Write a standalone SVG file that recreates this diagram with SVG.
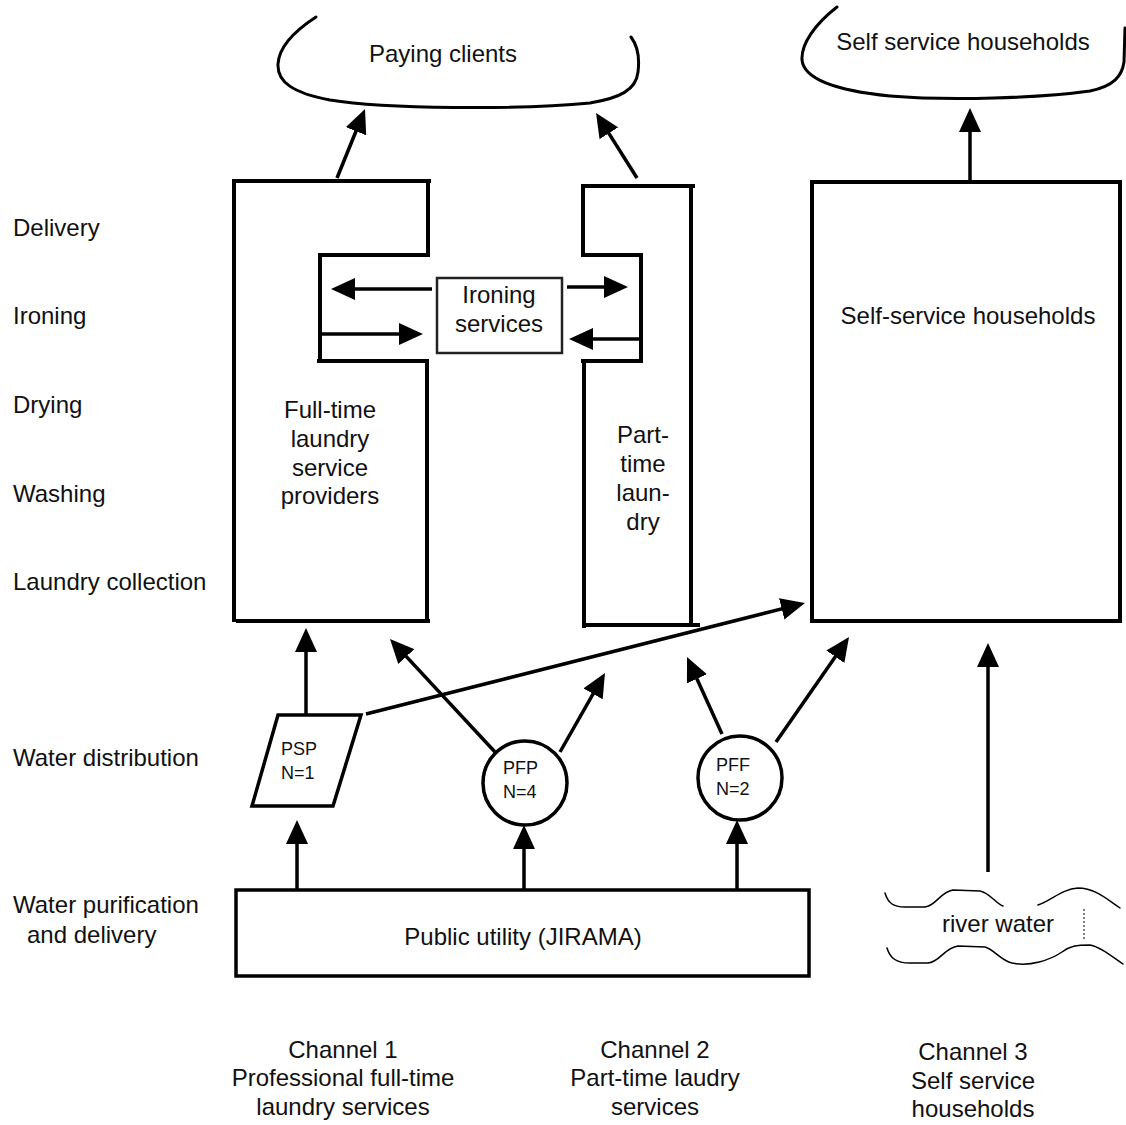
<svg xmlns="http://www.w3.org/2000/svg" width="1126" height="1125" viewBox="0 0 1126 1125">
  <style>
    text { font-family: "Liberation Sans", Arial, sans-serif; font-size: 24px; fill: #111; }
    .mid { text-anchor: middle; }
    .small { font-size: 18px; }
    .wall { fill: none; stroke: #000; stroke-width: 4; }
    .shape { fill: #fff; stroke: #000; stroke-width: 3.5; }
    .cloud { fill: none; stroke: #000; stroke-width: 3; stroke-linecap: round; }
    .wave { fill: none; stroke: #000; stroke-width: 1.5; stroke-linecap: round; }
    .arrow { fill: none; stroke: #000; stroke-width: 3.5; marker-end: url(#head); }
  </style>
  <defs>
    <marker id="head" viewBox="0 0 24 22" refX="4" refY="11" markerWidth="24" markerHeight="22" markerUnits="userSpaceOnUse" orient="auto">
      <path d="M0,0 L24,11 L0,22 z" fill="#000"/>
    </marker>
  </defs>

  <rect width="1126" height="1125" fill="#fff"/>

  <!-- Stage labels on the left -->
  <g id="stage-labels">
    <text x="13" y="236">Delivery</text>
    <text x="13" y="324">Ironing</text>
    <text x="13" y="413">Drying</text>
    <text x="13" y="502">Washing</text>
    <text x="13" y="590">Laundry collection</text>
    <text x="13" y="766">Water distribution</text>
    <text x="13" y="913">Water purification</text>
    <text x="27" y="943">and delivery</text>
  </g>

  <!-- Clients -->
  <g id="paying-clients">
    <path class="cloud" d="M316,17 C296,30 279,46 278,64 C277,82 293,93 330,100 C385,109 520,110 590,103 C620,98 636,90 638,72 C640,56 637,45 631,37"/>
    <text class="mid" x="443" y="62">Paying clients</text>
  </g>
  <g id="self-service-clients">
    <path class="cloud" d="M837,7 C815,24 801,44 802,60 C804,80 840,91 890,96 C950,101 1040,98 1090,91 C1114,86 1122,76 1124,62 L1125,28"/>
    <text class="mid" x="963" y="50">Self service households</text>
  </g>

  <!-- Full-time laundry service providers -->
  <g id="full-time-providers">
    <path class="wall" d="M232,181 H431 M234,183 V622 M428,183 V257 M318,255 H430 M320,255 V363 M317,361 H429 M427,361 V623 M236,621 H430"/>
    <text class="mid" x="330" y="418">Full-time</text>
    <text class="mid" x="330" y="447">laundry</text>
    <text class="mid" x="330" y="476">service</text>
    <text class="mid" x="330" y="504">providers</text>
  </g>

  <!-- Part-time laundry -->
  <g id="part-time-laundry">
    <path class="wall" d="M581,186 H695 M583,186 V257 M581,255 H643 M641,253 V363 M581,361 H643 M584,361 V628 M691,186 V626 M586,625 H700"/>
    <text class="mid" x="643" y="443">Part-</text>
    <text class="mid" x="643" y="472">time</text>
    <text class="mid" x="643" y="501">laun-</text>
    <text class="mid" x="643" y="530">dry</text>
  </g>

  <!-- Ironing services -->
  <g id="ironing-services">
    <rect x="437" y="278" width="125" height="75" fill="#fff" stroke="#222" stroke-width="2.5"/>
    <text class="mid" x="499" y="303">Ironing</text>
    <text class="mid" x="499" y="332">services</text>
  </g>

  <!-- Self-service households -->
  <g id="self-service-households">
    <rect x="812" y="182" width="308" height="439" fill="none" stroke="#000" stroke-width="4"/>
    <text class="mid" x="968" y="324">Self-service households</text>
  </g>

  <!-- Water distribution points -->
  <g id="psp">
    <polygon class="shape" points="278,715 361,715 333,806 252,806"/>
    <text class="small" x="281" y="755">PSP</text>
    <text class="small" x="281" y="779">N=1</text>
  </g>
  <g id="pfp">
    <circle class="shape" cx="525" cy="783" r="42"/>
    <text class="small" x="503" y="774">PFP</text>
    <text class="small" x="503" y="798">N=4</text>
  </g>
  <g id="pff">
    <circle class="shape" cx="740" cy="778" r="42"/>
    <text class="small" x="716" y="771">PFF</text>
    <text class="small" x="716" y="795">N=2</text>
  </g>

  <!-- Water sources -->
  <g id="jirama">
    <rect x="236" y="890" width="573" height="86" fill="#fff" stroke="#000" stroke-width="3.5"/>
    <text class="mid" x="523" y="945">Public utility (JIRAMA)</text>
  </g>
  <g id="river-water">
    <path class="wave" d="M885,893 C888,903 893,907 905,907 L925,907 C936,906 940,892 953,890 L980,891 C990,893 995,903 1003,906"/>
    <path class="wave" d="M1038,905 C1052,900 1062,889 1078,888 C1095,888 1108,900 1120,908"/>
    <path class="wave" d="M887,948 C890,958 896,963 910,963 L928,963 C940,962 944,948 958,946 L985,947 C995,950 1000,960 1012,963 C1030,967 1050,960 1062,952 C1070,946 1076,945 1090,945 C1100,947 1110,955 1123,964"/>
    <line x1="1084" y1="909" x2="1084" y2="941" stroke="#000" stroke-width="1" stroke-dasharray="2,2"/>
    <text class="mid" x="998" y="932">river water</text>
  </g>

  <!-- Channel captions -->
  <g id="channel-1">
    <text class="mid" x="343" y="1058">Channel 1</text>
    <text class="mid" x="343" y="1086">Professional full-time</text>
    <text class="mid" x="343" y="1115">laundry services</text>
  </g>
  <g id="channel-2">
    <text class="mid" x="655" y="1058">Channel 2</text>
    <text class="mid" x="655" y="1086">Part-time laudry</text>
    <text class="mid" x="655" y="1115">services</text>
  </g>
  <g id="channel-3">
    <text class="mid" x="973" y="1060">Channel 3</text>
    <text class="mid" x="973" y="1089">Self service</text>
    <text class="mid" x="973" y="1117">households</text>
  </g>

  <!-- Connectors -->
  <g id="connectors">
    <line class="arrow" x1="337" y1="178" x2="357.5" y2="127.5"/>
    <line class="arrow" x1="637" y1="178" x2="606.7" y2="129.9"/>
    <line class="arrow" x1="970" y1="180" x2="970" y2="128"/>
    <line class="arrow" x1="432" y1="289" x2="351" y2="289"/>
    <line class="arrow" x1="320" y1="334" x2="403" y2="334"/>
    <line class="arrow" x1="567" y1="287" x2="608" y2="287"/>
    <line class="arrow" x1="641" y1="339" x2="589" y2="339"/>
    <line class="arrow" x1="306" y1="715" x2="306" y2="648"/>
    <line class="arrow" x1="495" y1="752" x2="403.6" y2="653.6"/>
    <line class="arrow" x1="560" y1="752" x2="595.1" y2="690.4"/>
    <line class="arrow" x1="722" y1="734" x2="695.3" y2="675.2"/>
    <line class="arrow" x1="776" y1="742" x2="837.6" y2="653.4"/>
    <line class="arrow" x1="366" y1="714" x2="785.6" y2="607.9"/>
    <line class="arrow" x1="988" y1="872" x2="988" y2="663"/>
    <line class="arrow" x1="297" y1="890" x2="297" y2="840"/>
    <line class="arrow" x1="524" y1="890" x2="524" y2="845"/>
    <line class="arrow" x1="737" y1="890" x2="737" y2="840"/>
  </g>
</svg>
